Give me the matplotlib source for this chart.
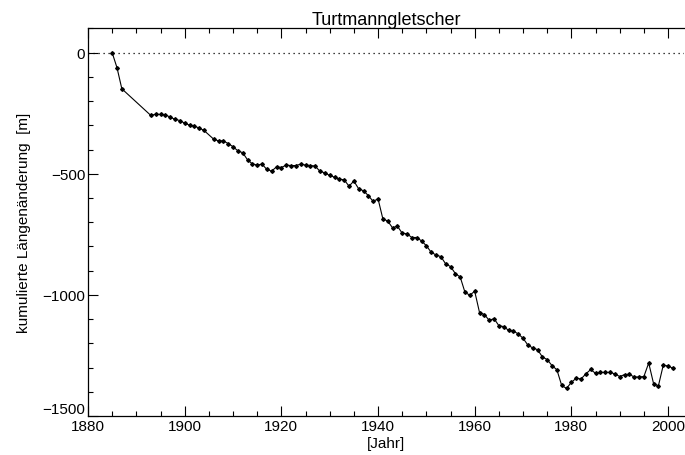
import numpy as np
import matplotlib.pyplot as plt
from matplotlib.ticker import MultipleLocator

plt.rcParams['font.family'] = ['Liberation Sans', 'DejaVu Sans']

# Jahre und kumulierte Laengenaenderung (m)
jahre = [1885, 1886, 1887, 1893, 1894, 1895, 1896, 1897, 1898, 1899,
         1900, 1901, 1902, 1903, 1904, 1906, 1907, 1908, 1909, 1910,
         1911, 1912, 1913, 1914, 1915, 1916, 1917, 1918, 1919, 1920,
         1921, 1922, 1923, 1924, 1925, 1926, 1927, 1928, 1929, 1930,
         1931, 1932, 1933, 1934, 1935, 1936, 1937, 1938, 1939, 1940,
         1941, 1942, 1943, 1944, 1945, 1946, 1947, 1948, 1949, 1950,
         1951, 1952, 1953, 1954, 1955, 1956, 1957, 1958, 1959, 1960,
         1961, 1962, 1963, 1964, 1965, 1966, 1967, 1968, 1969, 1970,
         1971, 1972, 1973, 1974, 1975, 1976, 1977, 1978, 1979, 1980,
         1981, 1982, 1983, 1984, 1985, 1986, 1987, 1988, 1989, 1990,
         1991, 1992, 1993, 1994, 1995, 1996, 1997, 1998, 1999, 2000,
         2001]
laenge = [0, -62, -149, -259, -254, -255, -256, -266, -275, -280,
          -291, -299, -303, -311, -321, -357, -364, -364, -375, -388,
          -405, -413, -442, -459, -464, -460, -482, -489, -471, -474,
          -464, -466, -466, -460, -464, -466, -468, -490, -496, -507,
          -514, -522, -525, -551, -530, -562, -570, -590, -614, -603,
          -686, -695, -723, -716, -745, -748, -763, -763, -777, -797,
          -824, -835, -842, -872, -883, -912, -926, -990, -1001, -985,
          -1073, -1081, -1105, -1098, -1127, -1131, -1146, -1149, -1161, -1179,
          -1207, -1219, -1226, -1256, -1267, -1292, -1309, -1374, -1386, -1361,
          -1344, -1347, -1326, -1308, -1324, -1320, -1320, -1320, -1326, -1337,
          -1329, -1328, -1339, -1339, -1337, -1281, -1366, -1376, -1291, -1293,
          -1303]

fig = plt.figure(figsize=(6.85, 4.56), dpi=100)
ax = fig.add_axes([88/685, 39/456, 596/685, 388/456])

ax.axhline(0, color='black', linestyle=(0, (1, 3)), linewidth=0.9)
ax.plot(jahre, laenge, '-', color='black', linewidth=0.8,
        marker='D', markersize=1.9)

ax.set_xlim(1880, 2003.3)
ax.set_ylim(-1500, 102)
ax.xaxis.set_major_locator(MultipleLocator(20))
ax.xaxis.set_minor_locator(MultipleLocator(5))
ax.yaxis.set_major_locator(MultipleLocator(500))
ax.yaxis.set_minor_locator(MultipleLocator(100))
ax.tick_params(which='both', direction='in', top=True, right=False,
               labelsize=11, width=0.8)
ax.tick_params(which='major', length=7, pad=2)
ax.tick_params(which='minor', length=3.5)
ax.spines['right'].set_visible(False)
for s in ['left', 'top', 'bottom']:
    ax.spines[s].set_linewidth(0.9)

ax.set_title('Turtmanngletscher', fontsize=13, pad=2)
ax.set_xlabel('[Jahr]', fontsize=11, labelpad=2)
ax.set_ylabel('kumulierte Längenänderung  [m]', fontsize=11, labelpad=8)

# unterste y-Beschriftung oberhalb des Ticks, wie in der Vorlage
fig.canvas.draw()
for tick in ax.yaxis.get_major_ticks():
    if abs(tick.get_loc() - (-1500)) < 1e-6:
        tick.label1.set_verticalalignment('bottom')

plt.savefig('out.png', dpi=100)
